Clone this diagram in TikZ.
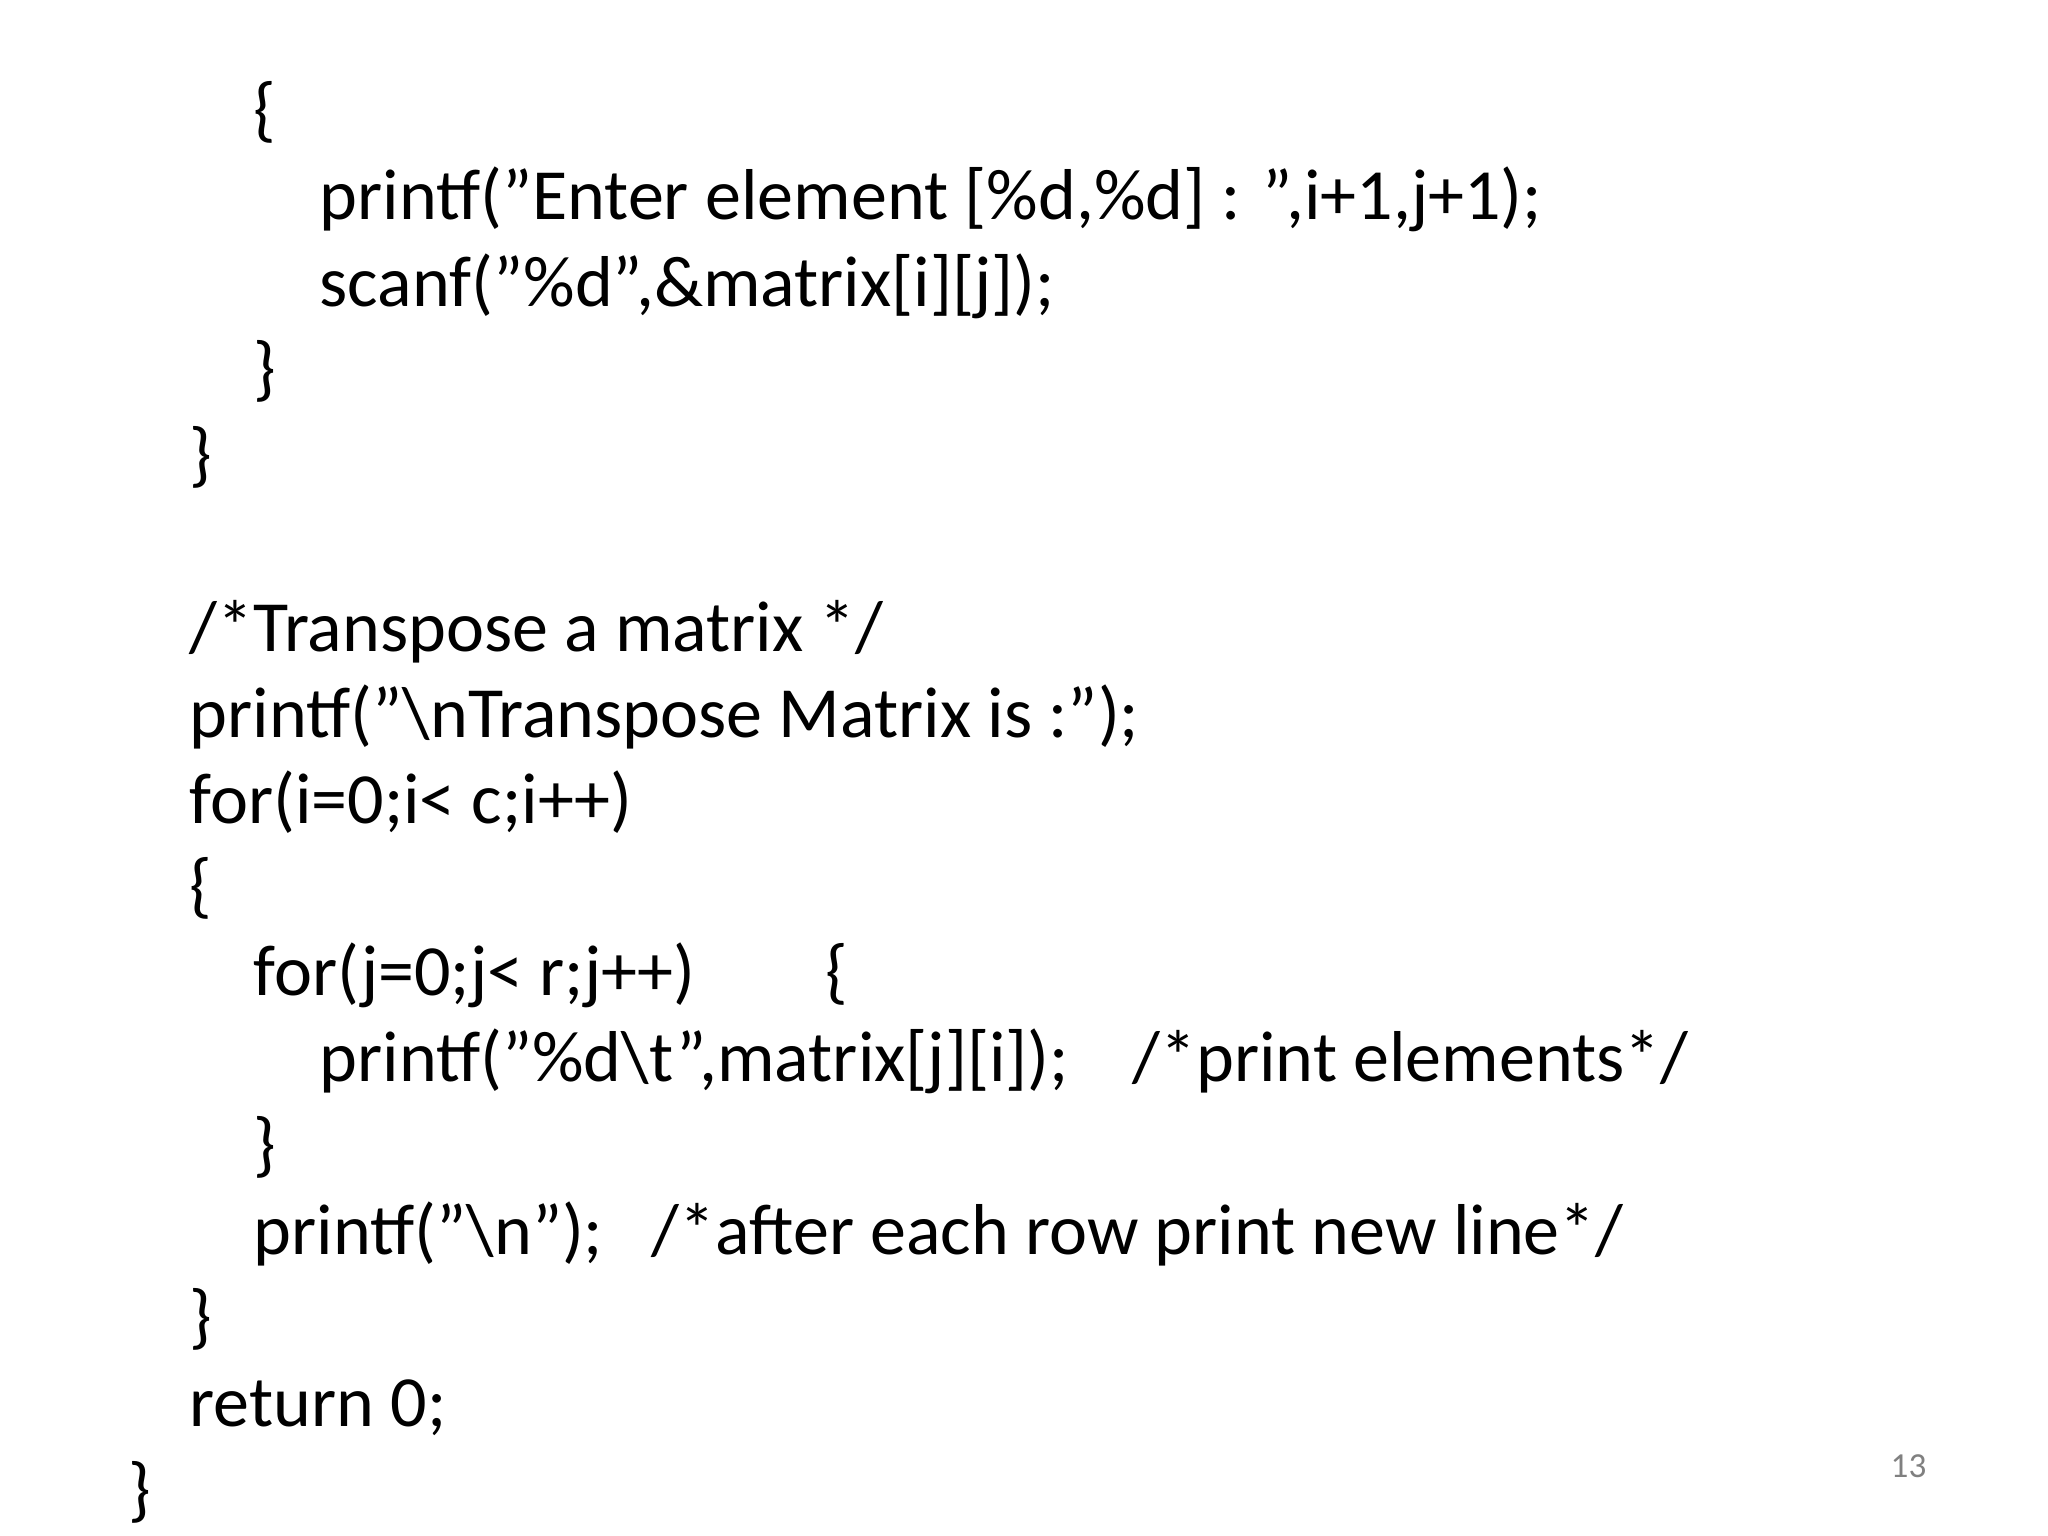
\documentclass[tikz,border=0pt]{standalone}
\usepackage{fontspec}
\setmainfont{Carlito}
\begin{document}
\begin{tikzpicture}[x=1cm,y=1cm,
  code/.style={anchor=base west,inner sep=0pt,font=\fontsize{20.5}{24}\selectfont}]
\useasboundingbox (0,0) rectangle (20.48,-15.36);
\def\bl#1{-2.20-(#1-1)*0.862}
\node[code] (l0) at (2.53,{\bl{0}}) {\{};
\node[code] (l1) at (3.19,{\bl{1}}) {printf("Enter element [\%d,\%d] : ",i+1,j+1);};
\node[code] (l2) at (3.19,{\bl{2}}) {scanf("\%d",\&matrix[i][j]);};
\node[code] (l3) at (2.53,{\bl{3}}) {\}};
\node[code] (l4) at (1.89,{\bl{4}}) {\}};
\node[code] (l6) at (1.89,{\bl{6}}) {/*Transpose a matrix */};
\node[code] (l7) at (1.89,{\bl{7}}) {printf("\textbackslash nTranspose Matrix is :");};
\node[code] (l8) at (1.89,{\bl{8}}) {for(i=0;i< c;i++)};
\node[code] (l9) at (1.89,{\bl{9}}) {\{};
\node[code] (l10) at (2.53,{\bl{10}}) {for(j=0;j< r;j++)};
\node[code] (l10b) at (8.25,{\bl{10}}) {\{};
\node[code] (l11) at (3.19,{\bl{11}}) {printf("\%d\textbackslash t",matrix[j][i]);};
\node[code] (l11b) at (11.32,{\bl{11}}) {/*print elements*/};
\node[code] (l12) at (2.53,{\bl{12}}) {\}};
\node[code] (l13) at (2.53,{\bl{13}}) {printf("\textbackslash n");};
\node[code] (l13b) at (6.51,{\bl{13}}) {/*after each row print new line*/};
\node[code] (l14) at (1.89,{\bl{14}}) {\}};
\node[code] (l15) at (1.89,{\bl{15}}) {return 0;};
\node[code] (l16) at (1.28,{\bl{16}}) {\}};
\node[anchor=base west,inner sep=0pt,text=black!50,font=\fontsize{10}{12}\selectfont] (pg) at (18.90,-14.77) {13};
\end{tikzpicture}
\end{document}
